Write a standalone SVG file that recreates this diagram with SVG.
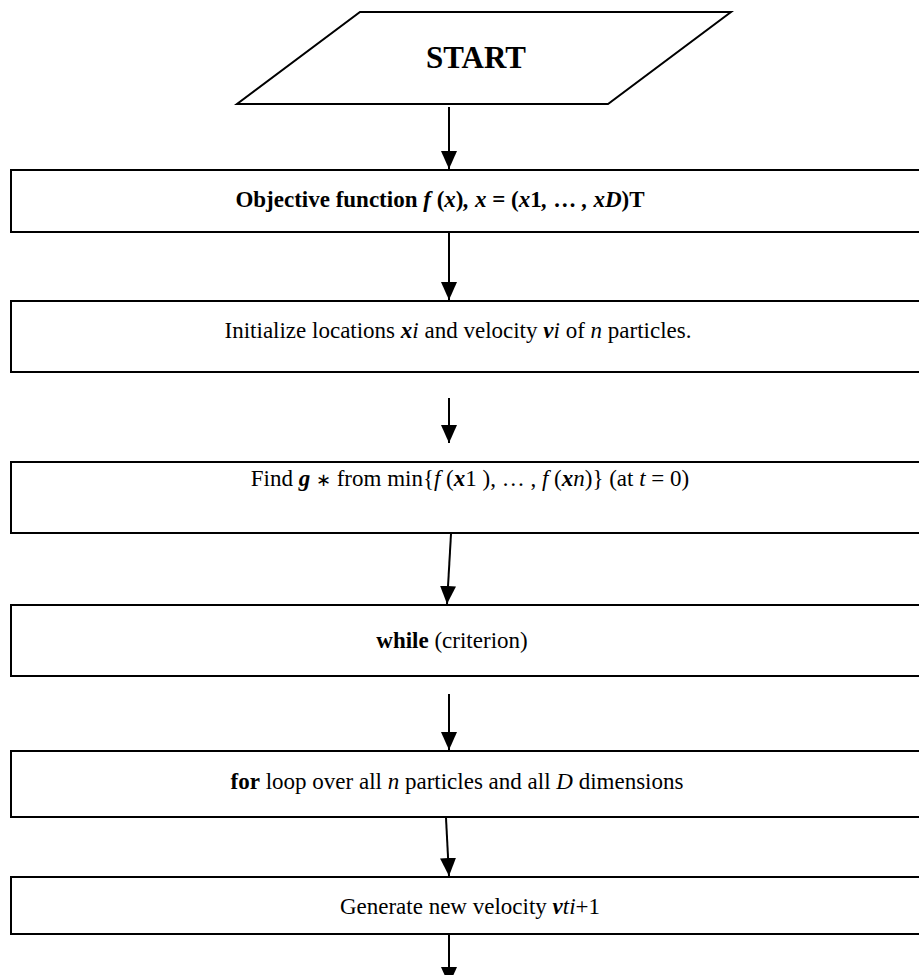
<svg xmlns="http://www.w3.org/2000/svg" width="919" height="975" viewBox="0 0 919 975">
<style>
.box{fill:#fff;stroke:#000;stroke-width:2}
.t{font-family:"Liberation Serif","Times New Roman",serif;font-size:23px;fill:#000;text-anchor:middle}
.b{font-weight:bold}
.i{font-style:italic}
.bi{font-weight:bold;font-style:italic}
.c{stroke:#000;stroke-width:2;fill:none}
</style>
<defs>
<marker id="ah" markerWidth="9" markerHeight="8" refX="9" refY="4" orient="auto" markerUnits="strokeWidth">
<path d="M0,0 L9,4 L0,8 Z" fill="#000"/>
</marker>
</defs>
<rect width="919" height="975" fill="#fff"/>
<g id="start">
<polygon class="box" points="360,12 731,12 608,104 237,104"/>
<text class="t b" x="476" y="68" style="font-size:31px">START</text>
</g>
<g id="objective">
<rect class="box" x="11" y="170" width="920" height="62"/>
<text class="t b" x="440" y="207">Objective function <tspan class="bi">f</tspan> (<tspan class="bi">x</tspan>)<tspan class="bi">,</tspan> <tspan class="bi">x</tspan> = (<tspan class="bi">x</tspan>1<tspan class="bi">,</tspan> … <tspan class="bi">,</tspan> <tspan class="bi">xD</tspan>)T</text>
</g>
<g id="init">
<rect class="box" x="11" y="301" width="920" height="71"/>
<text class="t" x="458" y="338">Initialize locations <tspan class="bi">x</tspan><tspan class="i">i</tspan> and velocity <tspan class="bi">v</tspan><tspan class="i">i</tspan> of <tspan class="i">n</tspan> particles.</text>
</g>
<g id="find">
<rect class="box" x="11" y="462" width="920" height="71"/>
<text class="t" x="470" y="486">Find <tspan class="bi">g</tspan> <tspan style="font-size:18px">∗</tspan> from min{<tspan class="i">f</tspan> (<tspan class="bi">x</tspan>1 ), … , <tspan class="i">f</tspan> (<tspan class="bi">x</tspan><tspan class="i">n</tspan>)} (at <tspan class="i">t</tspan> = 0)</text>
</g>
<g id="while">
<rect class="box" x="11" y="605" width="920" height="71"/>
<text class="t" x="452" y="648"><tspan class="b">while</tspan> (criterion)</text>
</g>
<g id="for">
<rect class="box" x="11" y="751" width="920" height="66"/>
<text class="t" x="457" y="789"><tspan class="b">for</tspan> loop over all <tspan class="i">n</tspan> particles and all <tspan class="i">D</tspan> dimensions</text>
</g>
<g id="generate">
<rect class="box" x="11" y="877" width="920" height="57"/>
<text class="t" x="470" y="914">Generate new velocity <tspan class="bi">v</tspan><tspan class="i">ti</tspan>+1</text>
</g>
<g id="connectors">
<line class="c" x1="449" y1="107" x2="449" y2="169" marker-end="url(#ah)"/>
<line class="c" x1="449" y1="233" x2="449" y2="300" marker-end="url(#ah)"/>
<line class="c" x1="449" y1="398" x2="449" y2="443" marker-end="url(#ah)"/>
<line class="c" x1="451" y1="534" x2="447" y2="604" marker-end="url(#ah)"/>
<line class="c" x1="449" y1="694" x2="449" y2="750" marker-end="url(#ah)"/>
<line class="c" x1="446" y1="818" x2="449" y2="876" marker-end="url(#ah)"/>
<line class="c" x1="449" y1="935" x2="449" y2="985" marker-end="url(#ah)"/>
</g>
</svg>
